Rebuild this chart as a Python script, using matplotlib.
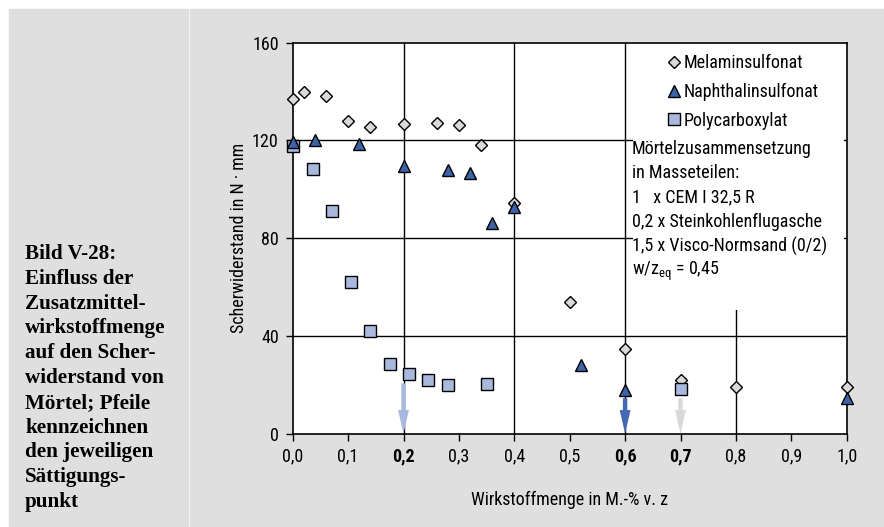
#!/usr/bin/env python3

"""
Scherwiderstand von Mörtel in Abhängigkeit der Zusatzmittelwirkstoffmenge.
"""

import matplotlib
matplotlib.use("Agg")
import matplotlib.pyplot as plt
from matplotlib import font_manager as fm
from matplotlib.patches import Rectangle


# Data

mel_x = [0.0, 0.02, 0.06, 0.10, 0.14, 0.20, 0.26, 0.30, 0.34, 0.40, 0.50, 0.60, 0.70, 0.80, 1.00]
mel_y = [137.0, 140.0, 138.0, 128.0, 125.6, 126.6, 127.0, 126.4, 118.0, 94.3, 54.0, 34.5, 22.0, 19.0, 19.2]

nap_x = [0.0, 0.04, 0.12, 0.20, 0.28, 0.32, 0.36, 0.40, 0.52, 0.60, 1.00]
nap_y = [119.5, 120.0, 118.7, 109.7, 108.0, 106.5, 86.1, 92.9, 28.1, 17.9, 14.5]

poly_x = [0.0, 0.036, 0.071, 0.106, 0.14, 0.175, 0.21, 0.245, 0.28, 0.35, 0.70]
poly_y = [117.9, 108.2, 91.1, 62.2, 42.0, 28.5, 24.4, 22.0, 19.9, 20.3, 18.3]

# saturation points (arrows)
arrow_x = [0.2, 0.6, 0.7]
arrow_top = [20.6, 14.5, 14.5]

x_ticks = [0.0, 0.1, 0.2, 0.3, 0.4, 0.5, 0.6, 0.7, 0.8, 0.9, 1.0]
x_labels = ["0,0", "0,1", "0,2", "0,3", "0,4", "0,5", "0,6", "0,7", "0,8", "0,9", "1,0"]
bold_labels = ["0,2", "0,6", "0,7"]
y_ticks = [0, 40, 80, 120, 160]

info_lines = [
    "Mörtelzusammensetzung",
    "in Masseteilen:",
    "1   x CEM I 32,5 R",
    "0,2 x Steinkohlenflugasche",
    "1,5 x Visco-Normsand (0/2)",
    "w/z$_{\\mathrm{eq}}$ = 0,45",
]

caption = ("Bild V-28:\nEinfluss der\nZusatzmittel-\nwirkstoffmenge\nauf den Scher-\n"
           "widerstand von\nMörtel; Pfeile\nkennzeichnen\nden jeweiligen\nSättigungs-\npunkt")

C_MEL = "#d9d9d9"
C_NAP = "#3e62a8"
C_POLY = "#a8b9dd"
arrow_colors = [C_POLY, "#4569b3", C_MEL]
PANEL = "#dfdfdf"


def _pick(names, default="DejaVu Sans"):
    for n in names:
        try:
            fm.findfont(fm.FontProperties(family=n), fallback_to_default=False)
            return n
        except ValueError:
            pass
    return default


NARROW = _pick(["Liberation Sans Narrow", "Roboto Condensed", "Liberation Sans"])
SERIF = _pick(["Liberation Serif", "DejaVu Serif"])

plt.rcParams["font.family"] = [NARROW, "DejaVu Sans"]
plt.rcParams["mathtext.fontset"] = "custom"
plt.rcParams["mathtext.rm"] = NARROW
plt.rcParams["mathtext.it"] = NARROW

W, H = 884, 527
fig = plt.figure(figsize=(W / 100, H / 100), dpi=100)
fig.patch.set_facecolor("white")

# grey panels
fig.patches.append(Rectangle((9 / W, 0), (188 - 9) / W, (H - 9) / H,
                             transform=fig.transFigure, color=PANEL, zorder=-1))
fig.patches.append(Rectangle((190 / W, 0), (W - 190) / W, (H - 9) / H,
                             transform=fig.transFigure, color=PANEL, zorder=-1))

fig.text(25 / W, 1 - 244 / H, caption, family=SERIF, weight="bold", fontsize=15.2,
         va="top", ha="left", linespacing=1.32)

ax = fig.add_axes([292.7 / W, 1 - 433.7 / H, 554 / W, 391 / H])
ax.set_zorder(1)
ax.set_facecolor("white")
ax.set_xlim(0, 1.0)
ax.set_ylim(0, 160)

# grid
for gx in [0.2, 0.4, 0.6, 0.8]:
    ax.axvline(gx, color="black", lw=1.0, zorder=1)
for gy in [40, 80, 120]:
    ax.axhline(gy, color="black", lw=1.0, zorder=1)

# white info box covering the grid
ax.add_patch(Rectangle((0.614, 50.5), 0.996 - 0.614, 160 - 50.5,
                       facecolor="white", edgecolor="none", zorder=1.5))

mel = ax.plot(mel_x, mel_y, ls="none", marker="D", ms=6.6, mfc=C_MEL, mec="black",
              mew=1.0, zorder=3, clip_on=False, label="Melaminsulfonat")[0]
poly = ax.plot(poly_x, poly_y, ls="none", marker="s", ms=8, mfc=C_POLY, mec="black",
               mew=1.0, zorder=4, clip_on=False, label="Polycarboxylat")[0]
nap = ax.plot(nap_x, nap_y, ls="none", marker="^", ms=8.4, mfc=C_NAP, mec="black",
              mew=1.0, zorder=5, clip_on=False, label="Naphthalinsulfonat")[0]

for xa, ya, ca in zip(arrow_x, arrow_top, arrow_colors):
    ax.annotate("", xy=(xa, 0), xytext=(xa, ya),
                arrowprops=dict(width=3.2, headwidth=7.8, headlength=17, shrink=0,
                                facecolor=ca, edgecolor="none"),
                zorder=2)

ax.legend(handles=[mel, nap, poly], loc="upper left", frameon=False, fontsize=13,
          bbox_to_anchor=(667 / W, 1 - 54 / H), bbox_transform=fig.transFigure,
          borderpad=0, borderaxespad=0, handlelength=0.8, handletextpad=0.1,
          labelspacing=0.6)

for i, line in enumerate(info_lines):
    ax.text(632 / W, 1 - (149 + 24.4 * i) / H, line, transform=fig.transFigure,
            fontsize=13, va="center", ha="left", zorder=6)

for s in ax.spines.values():
    s.set_linewidth(1.2)
    s.set_zorder(2.5)

ax.set_xticks(x_ticks)
ax.set_xticklabels(x_labels)
for lab in ax.get_xticklabels():
    if lab.get_text() in bold_labels:
        lab.set_fontweight("bold")
ax.set_yticks(y_ticks)
ax.tick_params(direction="out", length=5, width=1.0, labelsize=13, pad=5)

ax.set_xlabel("Wirkstoffmenge in M.-% v. z", fontsize=13, labelpad=18)
ax.set_ylabel("Scherwiderstand in N · mm", fontsize=13, labelpad=3)

fig.savefig("out.png", dpi=100)
